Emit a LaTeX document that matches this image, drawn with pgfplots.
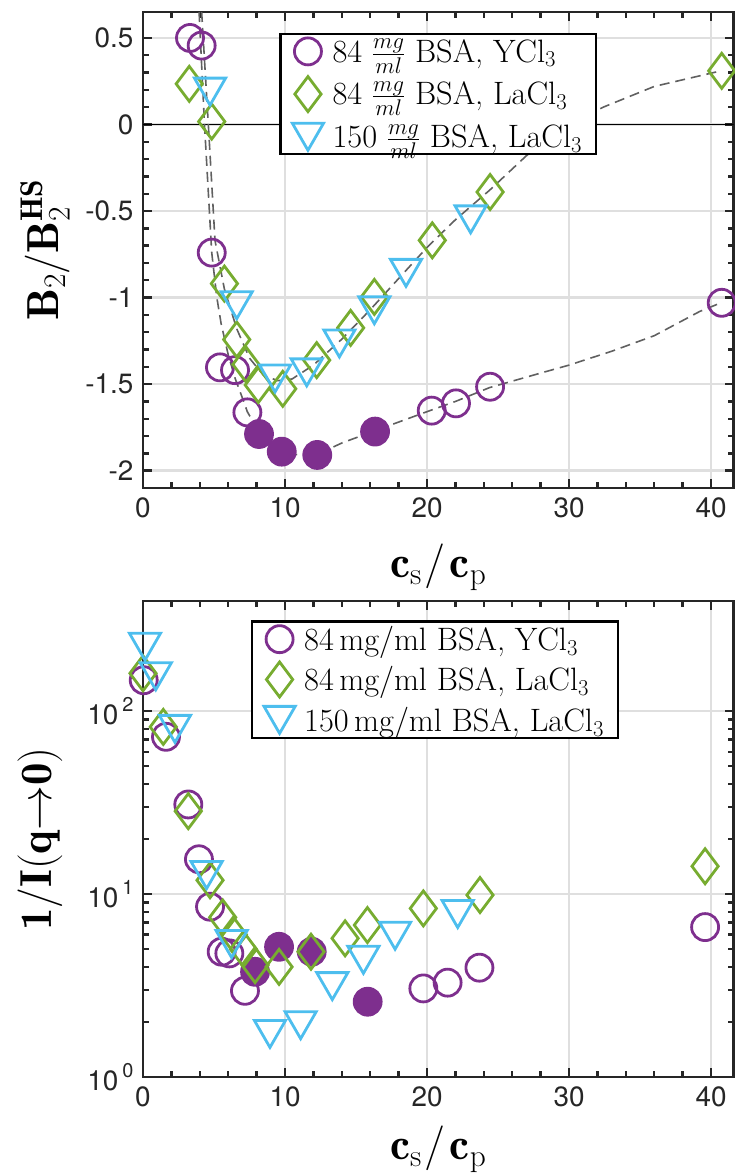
\RequirePackage{fix-cm}
\documentclass[border=0pt]{standalone}
\usepackage{fontspec}
\usepackage{pgfplots}
\pgfplotsset{compat=1.18}
\newfontfamily\tickfont{TeX Gyre Heros}
\definecolor{cP}{HTML}{7E2F8E}
\definecolor{cG}{HTML}{77AC30}
\definecolor{cB}{HTML}{4DBEEE}
\definecolor{axc}{HTML}{262626}
\definecolor{gridc}{HTML}{DFDFDF}
\definecolor{curvec}{HTML}{606060}
\pgfdeclareplotmark{tridown}{%
  \pgfpathmoveto{\pgfqpoint{-0.866\pgfplotmarksize}{0.75\pgfplotmarksize}}%
  \pgfpathlineto{\pgfqpoint{0.866\pgfplotmarksize}{0.75\pgfplotmarksize}}%
  \pgfpathlineto{\pgfqpoint{0pt}{-0.75\pgfplotmarksize}}%
  \pgfpathclose\pgfusepathqstroke}
\newcommand\tp[1]{10\hspace{4bp}\raisebox{13bp}{\fontsize{20}{20}\selectfont #1}}
\pgfplotsset{
  limg/.style={legend image code/.code={\draw[mark repeat=2,mark phase=2] plot coordinates {(0bp,0bp)(14bp,0bp)(28bp,0bp)};}},
  mP/.style={only marks, mark=o, mark size=13.5bp, color=cP, line width=2.8bp, limg},
  mPf/.style={only marks, mark=*, mark size=13.5bp, color=cP, line width=2.8bp, mark options={fill=cP}},
  mG/.style={only marks, mark=diamond, mark size=17.5bp, color=cG, line width=2.8bp, limg},
  mB/.style={only marks, mark=tridown, mark size=18bp, color=cB, line width=2.8bp, limg},
  crv/.style={curvec, line width=1.6bp, dash pattern=on 10bp off 6bp, forget plot},
  myax/.style={scale only axis, width=590.5bp, height=476bp,
    xmin=0, xmax=41.58, xtick={0,10,20,30,40}, minor x tick num=4,
    tick align=inside, axis line style={axc, line width=2.8bp},
    every tick/.style={axc, line width=2.4bp},
    major tick length=9bp, minor tick length=6bp,
    xmajorgrids, ymajorgrids, major grid style={gridc, line width=2.5bp},
    /pgf/number format/assume math mode=true,
    ticklabel style={font=\fontsize{28}{28}\selectfont\tickfont, text=axc},
    xticklabel style={yshift=-6bp},
    yticklabel style={xshift=-6bp},
    label style={font=\fontsize{45}{45}\selectfont},
    xlabel={$\mathbf{c}_{\mathrm{s}}\mkern1mu/\mkern2mu\mathbf{c}_{\mathrm{p}}$},
    legend cell align=left,
    legend style={draw=black, line width=2.5bp, fill=white, anchor=north west,
      font=\fontsize{32.5}{38}\selectfont, inner xsep=12bp, inner ysep=3bp,
      /tikz/every odd column/.append style={column sep=7bp}},
  },
}
\begin{document}
\begin{tikzpicture}
\begin{axis}[myax, at={(143bp,-12bp)}, anchor=north west,
  ymin=-2.1, ymax=0.65,
  ytick={-2,-1.5,-1,-0.5,0,0.5}, yticklabels={-2,-1.5,-1,-0.5,0,0.5},
  minor y tick num=4,
  ylabel={$\mathbf{B}_2/\mathbf{B}_2^{\mathbf{HS}}$},
  xlabel style={at={(axis description cs:0.5,-0.189)}, anchor=base},
  ylabel style={at={(axis description cs:-0.166,0.5)}, anchor=center},
  legend style={at={(0.2305,0.956)}, row sep=11bp},
]
\addplot[black, line width=1.5bp, forget plot] coordinates {(0,0) (41.58,0)};
\addplot[crv] coordinates {
(3.95,0.65) (4.33,0.0) (4.84,-0.74) (5.2,-1.0) (5.5,-1.15) (6.0,-1.33) (6.5,-1.47)
(7.0,-1.58) (7.35,-1.66) (8.2,-1.78) (9.0,-1.85) (9.8,-1.89) (11,-1.91) (12.3,-1.905)
(14,-1.84) (16.3,-1.77) (18.3,-1.71) (20.3,-1.65) (22,-1.6) (24.4,-1.52) (28,-1.436)
(30,-1.39) (33,-1.31) (36,-1.22) (39.2,-1.08) (40.7,-1.03)};
\addplot[crv] coordinates {
(4.13,0.65) (4.6,0.0) (5.07,-0.67) (5.73,-0.95) (6.6,-1.18) (7.5,-1.35) (8.5,-1.45)
(9.5,-1.48) (10.5,-1.47) (12,-1.39) (14,-1.24) (16,-1.07) (18,-0.89) (20,-0.71)
(22,-0.55) (24.4,-0.38) (27,-0.18) (30,0.0) (32.4,0.1) (36,0.22) (40.7,0.31)};
\addplot[mP] coordinates {(3.31,0.50) (4.13,0.456) (4.84,-0.74) (5.42,-1.403) (6.48,-1.419)
 (7.35,-1.663) (20.33,-1.653) (22.04,-1.611) (24.44,-1.515) (40.75,-1.03)};
\addlegendentry{84 $\frac{mg}{ml}$ BSA, YCl$_3$}
\addplot[mPf, forget plot] coordinates {(8.17,-1.788) (9.77,-1.89) (12.27,-1.909) (16.34,-1.774)};
\addplot[mG] coordinates {(3.26,0.235) (4.84,0.017) (5.73,-0.919) (6.6,-1.242) (7.25,-1.386)
 (8.12,-1.505) (9.84,-1.527) (12.23,-1.361) (14.62,-1.175) (16.29,-0.996) (20.37,-0.669)
 (24.44,-0.39) (40.75,0.31)};
\addlegendentry{84 $\frac{mg}{ml}$ BSA, LaCl$_3$}
\addplot[mB] coordinates {(4.72,0.19) (6.6,-1.044) (9.3,-1.467) (11.53,-1.432) (13.83,-1.265)
 (16.29,-1.073) (18.52,-0.857) (23.07,-0.548)};
\addlegendentry{150 $\frac{mg}{ml}$ BSA, LaCl$_3$}
\end{axis}
\begin{axis}[myax, at={(143bp,-601bp)}, anchor=north west,
  ymode=log, ymin=1, ymax=400,
  ytick={1,10,100}, yticklabels={{\tp{0}},{\tp{1}},{\tp{2}}},
  ylabel={$\mathbf{1/I(q{\to}0)}$},
  xlabel style={at={(axis description cs:0.5,-0.174)}, anchor=base},
  ylabel style={at={(axis description cs:-0.1744,0.5)}, anchor=center},
  legend style={at={(0.1825,0.96)}, row sep=8bp},
]
\addplot[mP] coordinates {(0.05,147.6) (1.62,72.4) (3.19,30.9) (3.94,15.5) (4.72,8.53)
 (5.54,4.84) (6.08,4.74) (7.18,2.96) (19.74,3.05) (21.45,3.28) (23.69,3.96) (39.58,6.6)};
\addlegendentry{84\,mg/ml BSA, YCl$_3$}
\addplot[mPf, forget plot] coordinates {(7.89,3.76) (9.58,5.15) (11.88,4.84) (15.82,2.58)};
\addplot[mG] coordinates {(0.0,161) (1.43,82) (3.19,28.4) (4.72,11.9) (5.61,7.46) (6.36,6.0)
 (7.07,5.0) (7.89,4.09) (9.58,4.0) (11.83,4.84) (14.23,5.73) (15.8,6.77) (19.74,8.35)
 (23.73,9.88) (39.58,14.2)};
\addlegendentry{84\,mg/ml BSA, LaCl$_3$}
\addplot[mB] coordinates {(0.14,225) (0.9,155) (2.25,80) (4.48,12.7) (6.24,5.33) (8.94,1.72)
 (11.1,1.92) (13.33,3.14) (15.52,4.37) (17.75,5.92) (22.16,7.78)};
\addlegendentry{150\,mg/ml BSA, LaCl$_3$}
\end{axis}
\pgfresetboundingbox
\path[use as bounding box] (0bp,0bp) rectangle (735bp,-1173bp);
\end{tikzpicture}
\end{document}
